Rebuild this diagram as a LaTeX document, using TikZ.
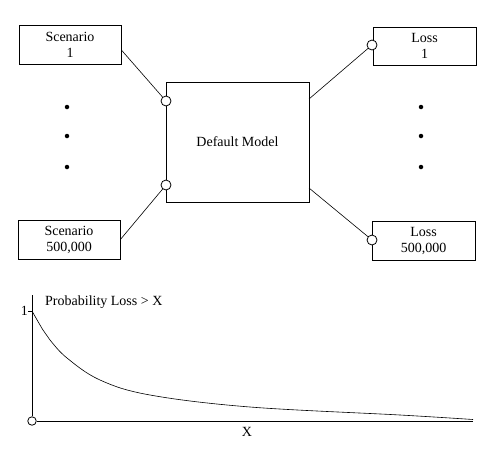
\documentclass[tikz,border=0pt]{standalone}
\usepackage{fontspec}
\setmainfont{Liberation Serif}
\begin{document}
\begin{tikzpicture}[x=1pt,y=-1pt,
  box/.style={draw,line width=0.8pt,align=center,inner sep=0pt,font=\fontsize{14}{16}\selectfont},
  port/.style={circle,draw,line width=0.8pt,fill=white,inner sep=0pt,minimum size=10pt},
  dotn/.style={circle,fill=black,inner sep=0pt,minimum size=4.5pt},
  wire/.style={line width=0.6pt},
  lbl/.style={font=\fontsize{14}{16}\selectfont,inner sep=0pt}]
\useasboundingbox (0,0) rectangle (500,450);
\node[box,minimum width=102pt,minimum height=39pt] (s1) at (70,44.5) {Scenario\\1};
\node[box,minimum width=102pt,minimum height=39pt] (sn) at (69,239.5) {Scenario\\500,000};
\node[box,minimum width=143pt,minimum height=120pt] (m) at (237.5,142) {Default Model};
\node[box,minimum width=103pt,minimum height=38pt] (l1) at (424.5,46) {Loss\\1};
\node[box,minimum width=103pt,minimum height=39pt] (ln) at (423.5,240.5) {Loss\\500,000};
% dots
\node[dotn] (d1) at (67,107) {};
\node[dotn] (d2) at (67,136) {};
\node[dotn] (d3) at (67,167) {};
\node[dotn] (e1) at (421,107) {};
\node[dotn] (e2) at (421,136) {};
\node[dotn] (e3) at (421,167) {};
% connectors
\coordinate (s1o) at ([yshift=-5.5pt]s1.east);
\coordinate (mo1) at (309,99);
\coordinate (mo2) at (309,188);
\draw[wire] (s1o) -- (166,101);
\draw[wire] (sn.east) -- (166,185);
\draw[wire] (mo1) -- (372,45);
\draw[wire] (mo2) -- (372,240);
\node[port] (p1) at (166,101) {};
\node[port] (p2) at (166,185) {};
\node[port] (p3) at (372,45) {};
\node[port] (p4) at (372,240) {};
% chart
\coordinate (ytop) at (32,295);
\coordinate (xend) at (473,421);
\node[port,minimum size=8.5pt] (o) at (32,421) {};
\draw[wire] (o.north) -- (ytop);
\draw[line width=1pt] (o.east) -- (xend);
\coordinate (t1) at (32,311);
\draw[wire] (t1) -- ++(-4,0);
\node[lbl,anchor=east] (one) at (28,311) {1};
\node[lbl,anchor=west] (title) at (45,302) {Probability Loss > X};
\node[lbl] (xl) at (247,432) {X};
\draw[wire] plot[smooth,tension=0.6] coordinates {(32,311) (43,330) (50,340) (67,358) (100,380) (150,395) (250,407) (400,415) (473,419.5)};
\end{tikzpicture}
\end{document}
